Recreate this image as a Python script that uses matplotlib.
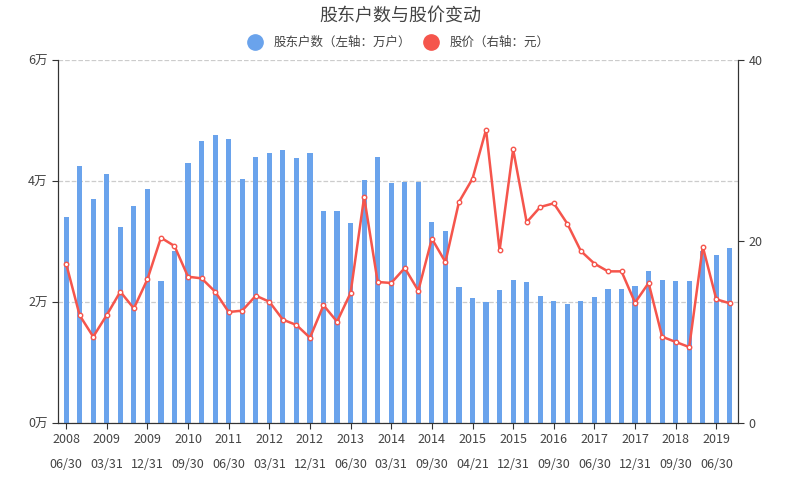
import numpy as np
import matplotlib.pyplot as plt
from matplotlib.lines import Line2D

plt.rcParams['font.family'] = ['Noto Sans CJK SC', 'DejaVu Sans']

# report dates (quarterly, a few irregular ones)
dates = ['2008\n06/30', '2008\n09/30', '2008\n12/31', '2009\n03/31', '2009\n06/30', '2009\n09/30',
         '2009\n12/31', '2010\n03/31', '2010\n06/30', '2010\n09/30', '2010\n12/31', '2011\n03/31',
         '2011\n06/30', '2011\n09/30', '2011\n12/31', '2012\n03/31', '2012\n06/30', '2012\n09/30',
         '2012\n12/31', '2013\n03/31', '2013\n04/30', '2013\n06/30', '2013\n09/30', '2013\n12/31',
         '2014\n03/31', '2014\n06/30', '2014\n08/31', '2014\n09/30', '2014\n12/31', '2015\n03/31',
         '2015\n04/21', '2015\n06/30', '2015\n09/30', '2015\n12/31', '2016\n03/31', '2016\n06/30',
         '2016\n09/30', '2016\n12/31', '2017\n03/31', '2017\n06/30', '2017\n09/30', '2017\n10/31',
         '2017\n12/31', '2018\n03/31', '2018\n06/30', '2018\n09/30', '2018\n12/31', '2019\n03/31',
         '2019\n06/30', '2019\n08/31']

# shareholders (10k households)
holders = [3.41, 4.25, 3.71, 4.12, 3.24, 3.59, 3.87, 2.35, 2.84, 4.30,
           4.66, 4.76, 4.70, 4.03, 4.39, 4.46, 4.51, 4.38, 4.47, 3.50,
           3.50, 3.30, 4.02, 4.40, 3.97, 3.99, 3.99, 3.33, 3.17, 2.24,
           2.06, 2.00, 2.20, 2.37, 2.33, 2.10, 2.02, 1.96, 2.01, 2.09,
           2.21, 2.21, 2.26, 2.51, 2.36, 2.35, 2.35, 2.84, 2.77, 2.90]

# share price (yuan)
price = [17.56, 11.86, 9.51, 11.90, 14.47, 12.63, 15.83, 20.42, 19.50, 16.12,
         15.94, 14.47, 12.23, 12.38, 14.03, 13.37, 11.39, 10.80, 9.40, 12.97,
         11.17, 14.33, 24.90, 15.54, 15.43, 17.08, 14.58, 20.31, 17.74, 24.35,
         26.92, 32.32, 19.03, 30.16, 22.12, 23.80, 24.21, 21.96, 18.95, 17.56,
         16.71, 16.71, 13.26, 15.43, 9.51, 8.93, 8.37, 19.43, 13.63, 13.19]

blue = '#6aa3ec'
red = '#f5554c'
dark = '#333333'

fig = plt.figure(figsize=(8, 5), dpi=100)
ax = fig.add_axes([0.0725, 0.154, 0.85, 0.726])
ax2 = ax.twinx()

x = np.arange(len(dates))
ax.bar(x, holders, width=0.38, color=blue, zorder=2)
ax.set_ylim(0, 6)
ax.set_yticks([0, 2, 4, 6])
ax.set_yticklabels(['0万', '2万', '4万', '6万'])
ax.yaxis.grid(True, linestyle='--', color='#cccccc', linewidth=0.9, zorder=0)
ax.set_axisbelow(True)
ax.set_xlim(-0.6, len(dates) - 0.4)
ax.set_xticks(x[::3])
ax.set_xticklabels(dates[::3], linespacing=2.2)

ax2.plot(x, price, color=red, linewidth=1.8, marker='o', markersize=3.2,
         markerfacecolor='white', markeredgecolor=red, markeredgewidth=1, zorder=3)
ax2.set_ylim(0, 40)
ax2.set_yticks([0, 20, 40])

for a in (ax, ax2):
    a.spines['top'].set_visible(False)
    for s in ('left', 'right', 'bottom'):
        a.spines[s].set_color(dark)
    a.tick_params(colors=dark, labelcolor='#444444', labelsize=9, length=4)

fig.suptitle('股东户数与股价变动', x=0.5, y=0.985, fontsize=13, color='#444444')
handles = [Line2D([], [], linestyle='none', marker='o', markersize=11, color=blue),
           Line2D([], [], linestyle='none', marker='o', markersize=11, color=red)]
fig.legend(handles, ['股东户数（左轴：万户）', '股价（右轴：元）'], loc='center',
           bbox_to_anchor=(0.5, 0.915), ncol=2, frameon=False, fontsize=9,
           handlelength=0.8, handletextpad=1.1, columnspacing=1.2,
           labelcolor='#444444')

fig.savefig('out.png', dpi=100)
